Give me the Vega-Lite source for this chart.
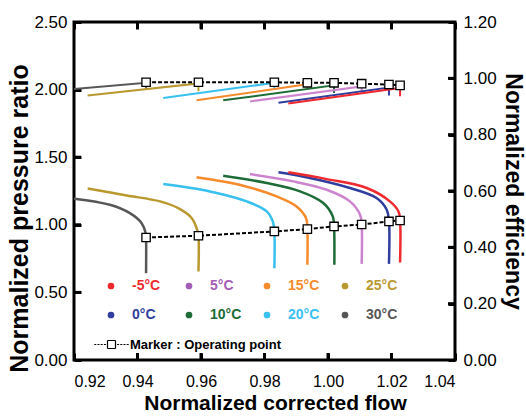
{
  "$schema": "https://vega.github.io/schema/vega-lite/v6.json",
  "width": 381,
  "height": 338,
  "autosize": "none",
  "padding": {"left": 74, "top": 22, "right": 71, "bottom": 56},
  "background": "white",
  "config": {
    "font": "Liberation Sans",
    "view": {"stroke": "black", "strokeWidth": 3},
    "axis": {
      "grid": false,
      "domain": false,
      "ticks": true,
      "tickColor": "black",
      "tickWidth": 3,
      "tickSize": -7,
      "labelColor": "black",
      "labelFont": "Liberation Sans",
      "labelFontSize": 17,
      "labelPadding": 14,
      "titleFont": "Liberation Sans",
      "titleFontWeight": "bold",
      "titleColor": "black"
    },
    "legend": {"padding": 0, "titlePadding": 0}
  },
  "datasets": {
    "flowTicks": [{"flow": 0.94}, {"flow": 0.96}, {"flow": 0.98}, {"flow": 1.0}, {"flow": 1.02}],
    "prTicks": [{"pr": 0.5}, {"pr": 1.0}, {"pr": 1.5}, {"pr": 2.0}],
    "effTicks": [{"eff": 0.2}, {"eff": 0.4}, {"eff": 0.6}, {"eff": 0.8}, {"eff": 1.0}],
    "pressure": [
      {"series": "30°C", "i": 0, "flow": 0.9200, "pr": 1.193},
      {"series": "30°C", "i": 1, "flow": 0.9313, "pr": 1.148},
      {"series": "30°C", "i": 2, "flow": 0.9376, "pr": 1.086},
      {"series": "30°C", "i": 3, "flow": 0.9413, "pr": 1.012},
      {"series": "30°C", "i": 4, "flow": 0.9426, "pr": 0.938},
      {"series": "30°C", "i": 5, "flow": 0.9427, "pr": 0.906},
      {"series": "30°C", "i": 6, "flow": 0.9427, "pr": 0.642},
      {"series": "25°C", "i": 0, "flow": 0.9243, "pr": 1.269},
      {"series": "25°C", "i": 1, "flow": 0.9366, "pr": 1.217},
      {"series": "25°C", "i": 2, "flow": 0.9471, "pr": 1.173},
      {"series": "25°C", "i": 3, "flow": 0.9534, "pr": 1.116},
      {"series": "25°C", "i": 4, "flow": 0.9571, "pr": 1.049},
      {"series": "25°C", "i": 5, "flow": 0.9588, "pr": 0.963},
      {"series": "25°C", "i": 6, "flow": 0.9592, "pr": 0.919},
      {"series": "25°C", "i": 7, "flow": 0.9592, "pr": 0.654},
      {"series": "20°C", "i": 0, "flow": 0.9481, "pr": 1.301},
      {"series": "20°C", "i": 1, "flow": 0.9628, "pr": 1.247},
      {"series": "20°C", "i": 2, "flow": 0.9744, "pr": 1.173},
      {"series": "20°C", "i": 3, "flow": 0.9807, "pr": 1.099},
      {"series": "20°C", "i": 4, "flow": 0.9826, "pr": 1.025},
      {"series": "20°C", "i": 5, "flow": 0.9831, "pr": 0.951},
      {"series": "20°C", "i": 6, "flow": 0.9831, "pr": 0.679},
      {"series": "15°C", "i": 0, "flow": 0.9586, "pr": 1.351},
      {"series": "15°C", "i": 1, "flow": 0.9733, "pr": 1.289},
      {"series": "15°C", "i": 2, "flow": 0.9838, "pr": 1.210},
      {"series": "15°C", "i": 3, "flow": 0.9901, "pr": 1.136},
      {"series": "15°C", "i": 4, "flow": 0.9931, "pr": 1.049},
      {"series": "15°C", "i": 5, "flow": 0.9935, "pr": 0.968},
      {"series": "15°C", "i": 6, "flow": 0.9935, "pr": 0.704},
      {"series": "10°C", "i": 0, "flow": 0.9670, "pr": 1.363},
      {"series": "10°C", "i": 1, "flow": 0.9807, "pr": 1.309},
      {"series": "10°C", "i": 2, "flow": 0.9912, "pr": 1.247},
      {"series": "10°C", "i": 3, "flow": 0.9985, "pr": 1.161},
      {"series": "10°C", "i": 4, "flow": 1.0015, "pr": 1.062},
      {"series": "10°C", "i": 5, "flow": 1.0019, "pr": 0.988},
      {"series": "10°C", "i": 6, "flow": 1.0020, "pr": 0.704},
      {"series": "5°C", "i": 0, "flow": 0.9754, "pr": 1.375},
      {"series": "5°C", "i": 1, "flow": 0.9891, "pr": 1.321},
      {"series": "5°C", "i": 2, "flow": 0.9996, "pr": 1.259},
      {"series": "5°C", "i": 3, "flow": 1.0069, "pr": 1.173},
      {"series": "5°C", "i": 4, "flow": 1.0101, "pr": 1.074},
      {"series": "5°C", "i": 5, "flow": 1.0106, "pr": 1.002},
      {"series": "5°C", "i": 6, "flow": 1.0106, "pr": 0.711},
      {"series": "0°C", "i": 0, "flow": 0.9844, "pr": 1.388},
      {"series": "0°C", "i": 1, "flow": 0.9943, "pr": 1.346},
      {"series": "0°C", "i": 2, "flow": 1.0069, "pr": 1.272},
      {"series": "0°C", "i": 3, "flow": 1.0153, "pr": 1.198},
      {"series": "0°C", "i": 4, "flow": 1.0185, "pr": 1.111},
      {"series": "0°C", "i": 5, "flow": 1.0192, "pr": 1.025},
      {"series": "0°C", "i": 6, "flow": 1.0192, "pr": 0.711},
      {"series": "-5°C", "i": 0, "flow": 0.9875, "pr": 1.388},
      {"series": "-5°C", "i": 1, "flow": 0.9996, "pr": 1.338},
      {"series": "-5°C", "i": 2, "flow": 1.0122, "pr": 1.272},
      {"series": "-5°C", "i": 3, "flow": 1.0195, "pr": 1.173},
      {"series": "-5°C", "i": 4, "flow": 1.0222, "pr": 1.099},
      {"series": "-5°C", "i": 5, "flow": 1.0227, "pr": 1.032},
      {"series": "-5°C", "i": 6, "flow": 1.0227, "pr": 0.721}
    ],
    "efficiency": [
      {"series": "30°C", "i": 0, "flow": 0.9200, "eff": 0.962},
      {"series": "30°C", "i": 1, "flow": 0.9427, "eff": 0.984},
      {"series": "30°C", "i": 2, "flow": 0.9427, "eff": 0.960},
      {"series": "25°C", "i": 0, "flow": 0.9243, "eff": 0.939},
      {"series": "25°C", "i": 1, "flow": 0.9592, "eff": 0.982},
      {"series": "25°C", "i": 2, "flow": 0.9592, "eff": 0.954},
      {"series": "20°C", "i": 0, "flow": 0.9481, "eff": 0.930},
      {"series": "20°C", "i": 1, "flow": 0.9831, "eff": 0.984},
      {"series": "20°C", "i": 2, "flow": 0.9831, "eff": 0.966},
      {"series": "15°C", "i": 0, "flow": 0.9586, "eff": 0.922},
      {"series": "15°C", "i": 1, "flow": 0.9935, "eff": 0.979},
      {"series": "15°C", "i": 2, "flow": 0.9935, "eff": 0.960},
      {"series": "10°C", "i": 0, "flow": 0.9670, "eff": 0.922},
      {"series": "10°C", "i": 1, "flow": 1.0019, "eff": 0.975},
      {"series": "10°C", "i": 2, "flow": 1.0019, "eff": 0.948},
      {"series": "5°C", "i": 0, "flow": 0.9754, "eff": 0.918},
      {"series": "5°C", "i": 1, "flow": 1.0106, "eff": 0.971},
      {"series": "5°C", "i": 2, "flow": 1.0106, "eff": 0.946},
      {"series": "0°C", "i": 0, "flow": 0.9844, "eff": 0.913},
      {"series": "0°C", "i": 1, "flow": 1.0192, "eff": 0.967},
      {"series": "0°C", "i": 2, "flow": 1.0192, "eff": 0.939},
      {"series": "-5°C", "i": 0, "flow": 0.9875, "eff": 0.911},
      {"series": "-5°C", "i": 1, "flow": 1.0227, "eff": 0.966},
      {"series": "-5°C", "i": 2, "flow": 1.0227, "eff": 0.936}
    ],
    "operating": [
      {"series": "30°C", "flow": 0.9427, "pr": 0.906, "eff": 0.986},
      {"series": "25°C", "flow": 0.9592, "pr": 0.919, "eff": 0.986},
      {"series": "20°C", "flow": 0.9831, "pr": 0.951, "eff": 0.986},
      {"series": "15°C", "flow": 0.9935, "pr": 0.968, "eff": 0.984},
      {"series": "10°C", "flow": 1.0019, "pr": 0.988, "eff": 0.984},
      {"series": "5°C", "flow": 1.0106, "pr": 1.002, "eff": 0.981},
      {"series": "0°C", "flow": 1.0192, "pr": 1.025, "eff": 0.978},
      {"series": "-5°C", "flow": 1.0227, "pr": 1.032, "eff": 0.975}
    ]
  },
  "layer": [
    {
      "layer": [
        {
          "data": {"name": "pressure"},
          "mark": {"type": "line", "strokeWidth": 2.5, "interpolate": "catmull-rom", "clip": true},
          "encoding": {
            "x": {
              "field": "flow", "type": "quantitative",
              "scale": {"domain": [0.92, 1.04], "nice": false, "zero": false},
              "axis": {
                "orient": "bottom",
                "values": [0.92, 0.94, 0.96, 0.98, 1.0, 1.02, 1.04],
                "format": ".2f",
                "labelFontSize": 16,
                "labelPadding": 20,
                "title": "Normalized corrected flow",
                "titleFontSize": 21,
                "titleX": 201,
                "titleY": 49,
                "titleBaseline": "alphabetic"
              }
            },
            "y": {
              "field": "pr", "type": "quantitative",
              "scale": {"domain": [0, 2.5], "nice": false},
              "axis": {
                "orient": "left",
                "values": [0, 0.5, 1.0, 1.5, 2.0, 2.5],
                "format": ".2f",
                "title": "Normalized pressure ratio",
                "titleFontSize": 25,
                "titleAngle": -90,
                "titleX": -47,
                "titleY": 196,
                "titleBaseline": "alphabetic"
              }
            },
            "color": {
              "field": "series", "type": "nominal",
              "scale": {
                "domain": ["-5°C", "5°C", "15°C", "25°C", "0°C", "10°C", "20°C", "30°C"],
                "range": ["#ee2a2e", "#cc84cf", "#f68b2c", "#b9992f", "#2f3e9e", "#1d6b36", "#38c0ef", "#575757"]
              },
              "legend": {
                "title": null,
                "orient": "none",
                "legendX": 30,
                "legendY": 257,
                "direction": "horizontal",
                "columns": 4,
                "gridAlign": "all",
                "columnPadding": 18,
                "rowPadding": 15,
                "symbolType": "circle",
                "symbolSize": 45,
                "labelOffset": 14,
                "labelFontSize": 14,
                "labelFontWeight": "bold",
                "labelFont": "Liberation Sans",
                "encode": {
                  "symbols": {
                    "update": {
                      "shape": {"value": "circle"},
                      "fill": {"signal": "datum.value === '5°C' ? '#a45db6' : scale('color', datum.value)"},
                      "stroke": {"value": "transparent"},
                      "strokeWidth": {"value": 0},
                      "opacity": {"value": 1}
                    }
                  },
                  "labels": {
                    "update": {
                      "fill": {"signal": "datum.value === '5°C' ? '#a45db6' : scale('color', datum.value)"}
                    }
                  }
                }
              }
            },
            "order": {"field": "i", "type": "quantitative"}
          }
        },
        {
          "data": {"name": "flowTicks"},
          "mark": {"type": "tick", "orient": "vertical", "size": 14, "thickness": 3, "color": "black", "opacity": 1, "clip": true},
          "encoding": {
            "x": {"field": "flow", "type": "quantitative"},
            "y": {"datum": 0}
          }
        },
        {
          "data": {"name": "flowTicks"},
          "mark": {"type": "tick", "orient": "vertical", "size": 14, "thickness": 3, "color": "black", "opacity": 1, "clip": true},
          "encoding": {
            "x": {"field": "flow", "type": "quantitative"},
            "y": {"datum": 2.5}
          }
        },
        {
          "data": {"name": "prTicks"},
          "mark": {"type": "tick", "orient": "horizontal", "size": 14, "thickness": 3, "color": "black", "opacity": 1, "clip": true},
          "encoding": {
            "x": {"datum": 0.92},
            "y": {"field": "pr", "type": "quantitative"}
          }
        },
        {
          "data": {"name": "operating"},
          "mark": {"type": "line", "color": "black", "strokeWidth": 2},
          "encoding": {
            "x": {"field": "flow", "type": "quantitative"},
            "y": {"field": "pr", "type": "quantitative"},
            "strokeDash": {
              "datum": "Marker : Operating point",
              "scale": {"range": [[4, 2]]},
              "legend": {
                "title": null,
                "orient": "none",
                "legendX": 31,
                "legendY": 316,
                "symbolSize": 64,
                "symbolType": "M-4.3,0H-3.8M-3.5,0H-3M-2.7,0H-2.2M-1.9,0H-1.4M1.4,0H1.9M2.2,0H2.7M3,0H3.5M3.8,0H4.3M-1,-1H0M0,-1H1M1,-1V0M1,0V1M1,1H0M0,1H-1M-1,1V0M-1,0V-1",
                "symbolStrokeColor": "black",
                "symbolStrokeWidth": 1.2,
                "symbolFillColor": "white",
                "labelOffset": 12,
                "labelFontSize": 13,
                "labelFontWeight": "bold",
                "labelColor": "black",
                "labelFont": "Liberation Sans"
              }
            }
          }
        },
        {
          "data": {"name": "operating"},
          "mark": {"type": "point", "shape": "square", "filled": true, "fill": "white", "stroke": "black", "strokeWidth": 1.3, "size": 70, "opacity": 1},
          "encoding": {
            "x": {"field": "flow", "type": "quantitative"},
            "y": {"field": "pr", "type": "quantitative"}
          }
        }
      ]
    },
    {
      "layer": [
        {
          "data": {"name": "efficiency"},
          "mark": {"type": "line", "strokeWidth": 2, "clip": true},
          "encoding": {
            "x": {
              "field": "flow", "type": "quantitative",
              "axis": {"orient": "top", "values": [0.92, 0.94, 0.96, 0.98, 1.0, 1.02, 1.04], "labels": false, "title": null}
            },
            "y": {
              "field": "eff", "type": "quantitative",
              "scale": {"domain": [0, 1.2], "nice": false},
              "axis": {
                "orient": "right",
                "values": [0, 0.2, 0.4, 0.6, 0.8, 1.0, 1.2],
                "format": ".2f",
                "labelPadding": 15,
                "title": "Normalized efficiency",
                "titleFontSize": 23,
                "titleAngle": 90,
                "titleX": 50,
                "titleY": 169,
                "titleBaseline": "alphabetic"
              }
            },
            "color": {"field": "series", "type": "nominal", "legend": null},
            "order": {"field": "i", "type": "quantitative"}
          }
        },
        {
          "data": {"name": "effTicks"},
          "mark": {"type": "tick", "orient": "horizontal", "size": 14, "thickness": 3, "color": "black", "opacity": 1, "clip": true},
          "encoding": {
            "x": {"datum": 1.04},
            "y": {"field": "eff", "type": "quantitative"}
          }
        },
        {
          "data": {"name": "operating"},
          "mark": {"type": "line", "color": "black", "strokeWidth": 2, "strokeDash": [4, 2]},
          "encoding": {
            "x": {"field": "flow", "type": "quantitative"},
            "y": {"field": "eff", "type": "quantitative"}
          }
        },
        {
          "data": {"name": "operating"},
          "mark": {"type": "point", "shape": "square", "filled": true, "fill": "white", "stroke": "black", "strokeWidth": 1.3, "size": 70, "opacity": 1},
          "encoding": {
            "x": {"field": "flow", "type": "quantitative"},
            "y": {"field": "eff", "type": "quantitative"}
          }
        }
      ]
    }
  ],
  "resolve": {"scale": {"y": "independent"}, "axis": {"x": "independent"}}
}
